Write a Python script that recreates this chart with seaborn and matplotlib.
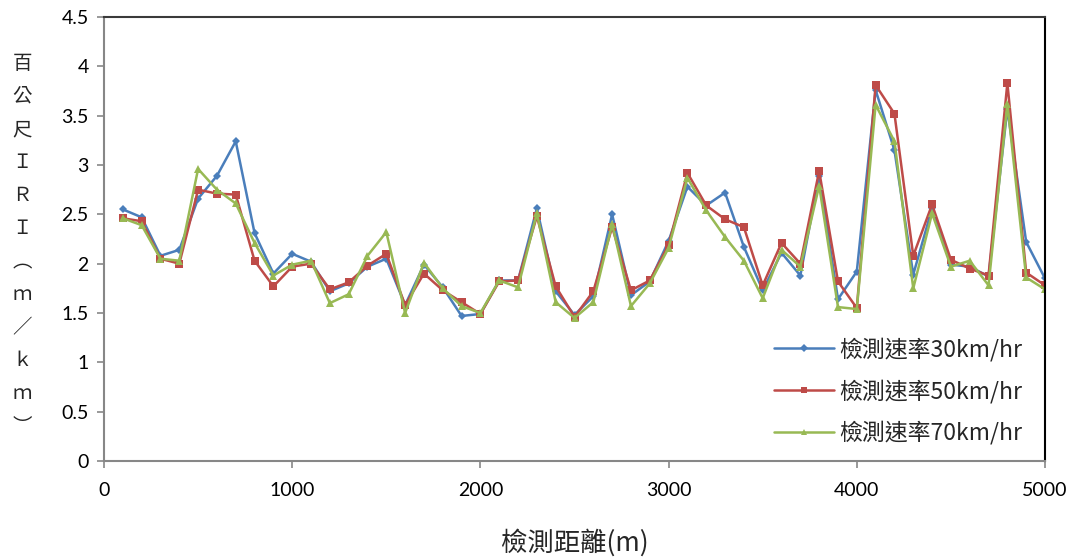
import matplotlib
matplotlib.use("Agg")
import matplotlib.pyplot as plt
import seaborn as sns
import pandas as pd
from matplotlib.ticker import FuncFormatter
from matplotlib.lines import Line2D

# Distance along the road (m)
distance = list(range(100, 5001, 100))

# IRI per 100 m (m/km) at three survey speeds
iri_30 = [2.55, 2.47, 2.08, 2.14, 2.66, 2.89, 3.24, 2.31, 1.90, 2.10,
          2.02, 1.72, 1.80, 1.97, 2.05, 1.58, 1.99, 1.76, 1.47, 1.49,
          1.83, 1.83, 2.56, 1.72, 1.48, 1.67, 2.50, 1.68, 1.82, 2.23,
          2.78, 2.59, 2.72, 2.17, 1.73, 2.11, 1.88, 2.89, 1.64, 1.92,
          3.76, 3.15, 1.89, 2.56, 1.99, 1.97, 1.87, 3.57, 2.22, 1.85]
iri_50 = [2.46, 2.43, 2.05, 2.00, 2.75, 2.71, 2.70, 2.03, 1.77, 1.97,
          2.00, 1.74, 1.81, 1.98, 2.10, 1.58, 1.90, 1.73, 1.61, 1.49,
          1.82, 1.83, 2.48, 1.77, 1.46, 1.72, 2.37, 1.73, 1.83, 2.19,
          2.92, 2.59, 2.45, 2.37, 1.78, 2.21, 2.00, 2.94, 1.82, 1.55,
          3.81, 3.52, 2.08, 2.60, 2.04, 1.95, 1.88, 3.83, 1.91, 1.78]
iri_70 = [2.46, 2.39, 2.05, 2.03, 2.96, 2.75, 2.61, 2.21, 1.88, 1.99,
          2.03, 1.60, 1.69, 2.08, 2.32, 1.50, 2.01, 1.75, 1.57, 1.50,
          1.83, 1.76, 2.51, 1.61, 1.45, 1.61, 2.40, 1.57, 1.80, 2.16,
          2.87, 2.54, 2.27, 2.03, 1.65, 2.14, 1.97, 2.79, 1.56, 1.54,
          3.61, 3.24, 1.75, 2.51, 1.97, 2.03, 1.78, 3.62, 1.86, 1.74]

series_names = ["檢測速率30km/hr", "檢測速率50km/hr", "檢測速率70km/hr"]
x_ticks = [0, 1000, 2000, 3000, 4000, 5000]
y_ticks = [0, 0.5, 1, 1.5, 2, 2.5, 3, 3.5, 4, 4.5]

df = pd.concat([
    pd.DataFrame({"距離": distance, "IRI": vals, "速率": name})
    for name, vals in zip(series_names, [iri_30, iri_50, iri_70])
], ignore_index=True)

sns.set_style("white")
cjk = ["Noto Sans CJK TC", "DejaVu Sans"]
plt.rcParams["font.family"] = cjk

fig = plt.figure(figsize=(10.82, 5.60), dpi=100)
ax = fig.add_axes([104 / 1082, 1 - 461 / 560, (1045 - 104) / 1082, (461 - 17) / 560])

palette = {series_names[0]: "#4A7EBB", series_names[1]: "#BE4B48", series_names[2]: "#98B954"}
markers = {series_names[0]: "D", series_names[1]: "s", series_names[2]: "^"}
sizes_m = {series_names[0]: 4.5, series_names[1]: 6.0, series_names[2]: 5.5}

sns.lineplot(data=df, x="距離", y="IRI", hue="速率", style="速率",
             palette=palette, markers=markers, dashes=False,
             linewidth=1.8, markeredgewidth=0, ax=ax, legend=False)
for line, name in zip(ax.get_lines(), series_names):
    line.set_markersize(sizes_m[name])

ax.set_xlim(0, 5000)
ax.set_ylim(0, 4.5)
ax.set_xticks(x_ticks)
ax.set_yticks(y_ticks)
ax.yaxis.set_major_formatter(FuncFormatter(lambda v, p: f"{v:g}"))
ax.set_xlabel("")
ax.set_ylabel("")

for lab in ax.get_xticklabels() + ax.get_yticklabels():
    lab.set_fontfamily(["Lato", "DejaVu Sans"])
    lab.set_fontsize(14)
    lab.set_color("black")

ax.tick_params(axis="both", which="major", direction="out", length=5,
               width=1.2, color="#878787", pad=6, bottom=True, left=True)
ax.tick_params(axis="x", pad=10)

ax.spines["left"].set_color("#878787")
ax.spines["bottom"].set_color("#878787")
ax.spines["top"].set_color("#3A3A3A")
ax.spines["right"].set_color("black")
for s in ax.spines.values():
    s.set_linewidth(1.5)
    s.set_visible(True)

# Legend built from the drawn line styles
handles = [Line2D([], [], color=palette[n], marker=markers[n], markersize=sizes_m[n] * 0.8,
                  markeredgewidth=0, linewidth=1.8) for n in series_names]
leg = ax.legend(handles, series_names, loc="lower right", bbox_to_anchor=(0.993, 0.0),
                frameon=False, fontsize=16.5, handlelength=2.6, handletextpad=0.25,
                labelspacing=0.78, borderaxespad=0.3)
for t in leg.get_texts():
    t.set_fontfamily(cjk)

fig.text(575 / 1082, 1 - 543 / 560, "檢測距離(m)", ha="center", va="center",
         fontsize=19, family=cjk)
fig.text(22 / 1082, 1 - 245 / 560, "\n".join("百公尺ＩＲＩ︵ｍ／ｋｍ︶"), ha="center",
         va="center", fontsize=14, family=cjk, linespacing=1.75)

fig.savefig("out.png", dpi=100, facecolor="white")
